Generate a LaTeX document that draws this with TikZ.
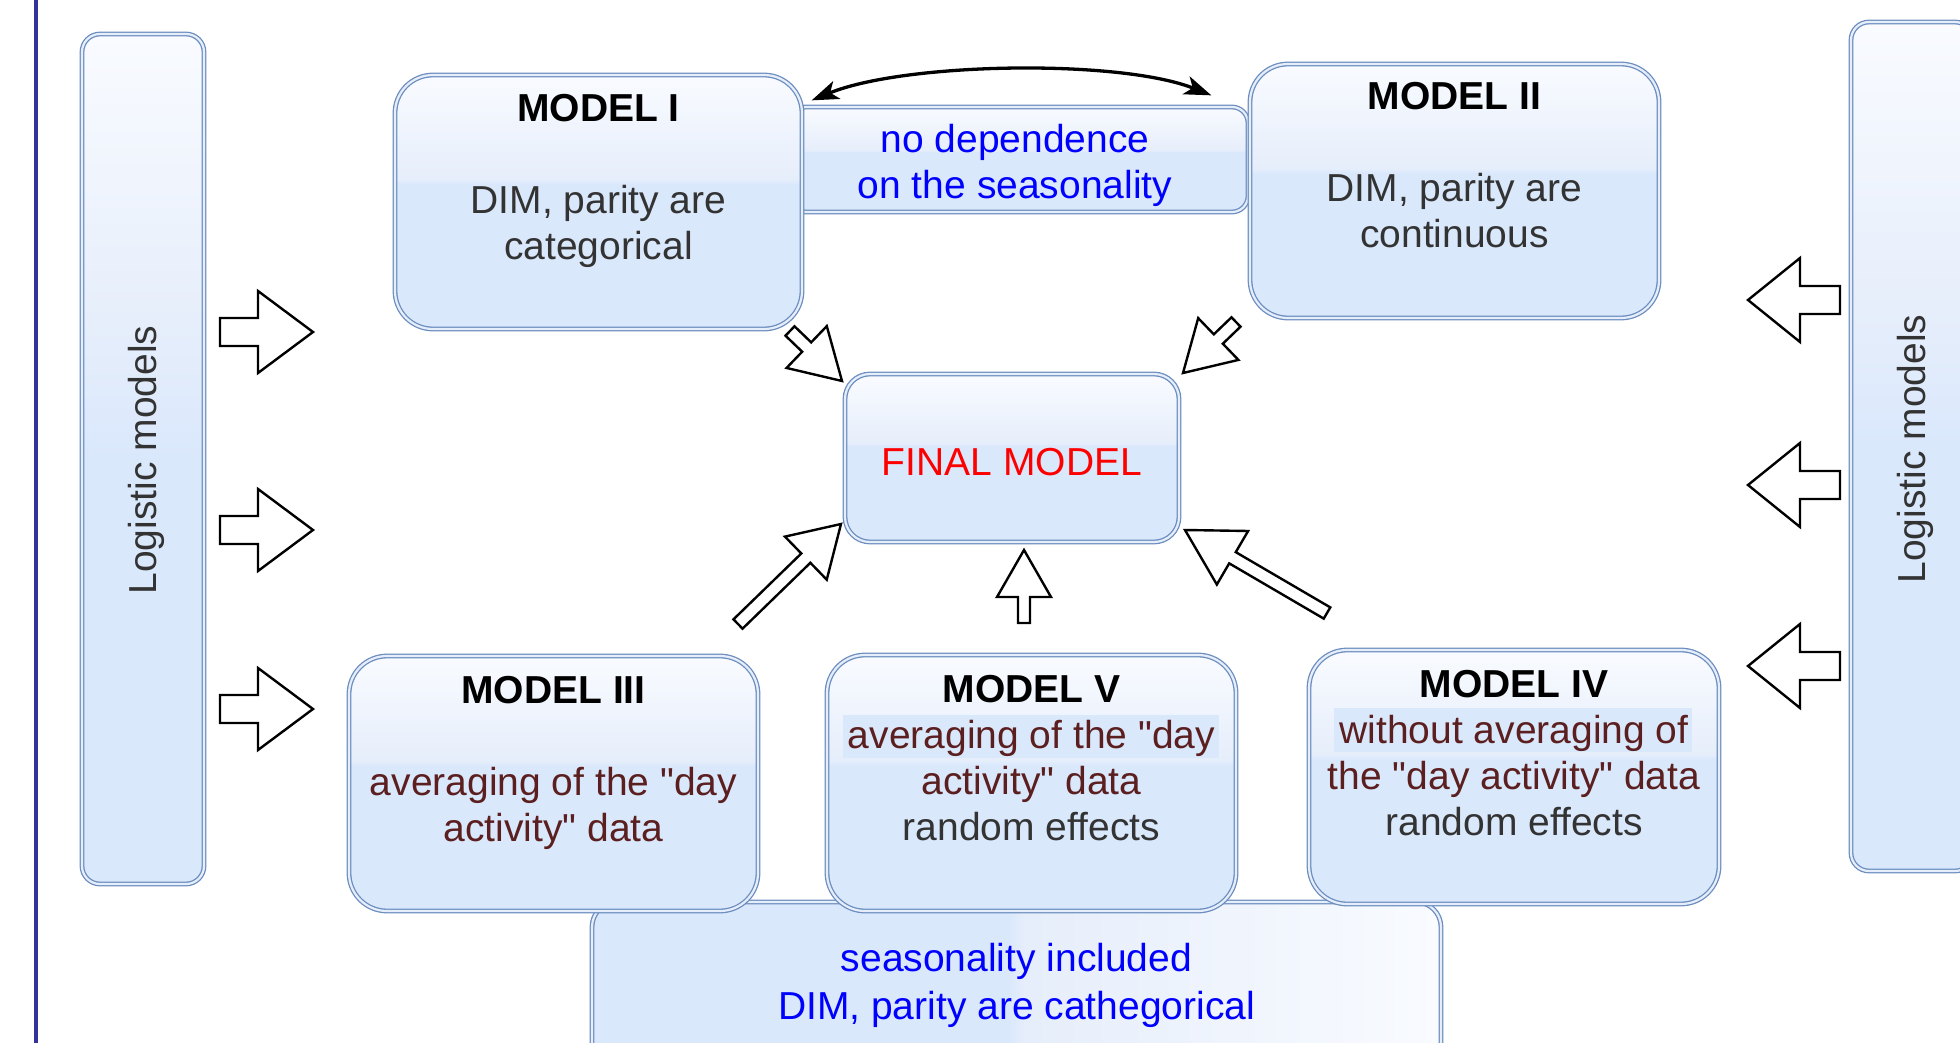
\documentclass[tikz,border=0pt]{standalone}
\usepackage{fontspec}
\setmainfont{Liberation Sans}[Ligatures=TeXOff]
\usetikzlibrary{calc,arrows.meta}

\definecolor{boxblue}{HTML}{DAE8FC}
\definecolor{glasslow}{HTML}{E6EEFB}
\definecolor{glasstop}{HTML}{F9FBFF}
\definecolor{boxline}{HTML}{6C8EBF}
\definecolor{frameblue}{HTML}{33339A}
\definecolor{bodygray}{HTML}{333333}
\definecolor{maroon}{HTML}{5C1F1F}
\definecolor{noteblue}{HTML}{0000FF}
\definecolor{finalred}{HTML}{FF0000}

% glossy fill: pale upper part, flat blue lower part
\pgfdeclareverticalshading{glassbox}{100bp}{color(0bp)=(boxblue); color(25bp)=(boxblue); color(53.5bp)=(boxblue); color(54.5bp)=(glasslow); color(75bp)=(glasstop); color(100bp)=(glasstop)}
\pgfdeclareverticalshading{glasssoft}{100bp}{color(0bp)=(boxblue); color(25bp)=(boxblue); color(50bp)=(boxblue); color(58bp)=(glasslow); color(75bp)=(glasstop); color(100bp)=(glasstop)}
\pgfdeclarehorizontalshading{glassside}{100bp}{color(0bp)=(boxblue); color(25bp)=(boxblue); color(49.5bp)=(boxblue); color(50.5bp)=(glasslow); color(75bp)=(glasstop); color(100bp)=(glasstop)}

\newcommand\topstrut{\rule{0pt}{30pt}}

% hollow block arrow: tail, tip, shaft half width, head half width, head length
\newcommand\blockarrow[5]{%
  \path ($(#2)!#5!(#1)$) coordinate (bahead);
  \draw[blockline] ($(#1)!#3!90:(#2)$) -- ($(bahead)!#3!90:(#2)$) -- ($(bahead)!#4!90:(#2)$) -- (#2)
    -- ($(bahead)!#4!-90:(#2)$) -- ($(bahead)!#3!-90:(#2)$) -- ($(#1)!#3!-90:(#2)$) -- cycle;}

\begin{document}
\begin{tikzpicture}[x=1pt,y=-1pt,
  gbox/.style={rectangle, rounded corners=#1, draw=boxline, line width=1.3pt,
    double=glasslow, double distance=2.2pt, shading=glassbox, inner sep=0pt},
  gbox/.default=38pt,
  txt/.style={align=center, inner sep=0pt, anchor=north, font=\fontsize{39}{46}\selectfont},
  sidetxt/.style={inner sep=0pt, rotate=90, font=\fontsize{39}{46}\selectfont, text=bodygray},
  blockline/.style={draw=black, fill=white, line width=2.4pt, line join=miter},
  frameline/.style={draw=frameblue, line width=4pt},
  swap/.style={draw=black, line width=3.3pt, {Stealth[length=27pt,width=19pt,inset=7pt]}-{Stealth[length=27pt,width=19pt,inset=7pt]}}
]
\useasboundingbox (0,0) rectangle (1960,1043);
\clip (0,0) rectangle (1960,1043);

% left frame rule
\draw[frameline] (36,-5) -- (36,1050);

% boxes
\node[gbox=25pt, shading=glassside, minimum width=849pt, minimum height=240pt] (bot) at (1016.5,1022) {};
\node[gbox=16pt, minimum width=458pt, minimum height=105pt] (conn) at (1019,159.5) {};
\node[gbox, minimum width=407pt, minimum height=254pt] (m1) at (598.5,202) {};
\node[gbox, minimum width=409pt, minimum height=254pt] (m2) at (1454.5,191) {};
\node[gbox=25pt, minimum width=334pt, minimum height=168pt] (final) at (1012,458) {};
\node[gbox, minimum width=409pt, minimum height=255pt] (m3) at (553.5,783.5) {};
\node[gbox, minimum width=409pt, minimum height=256pt] (m5) at (1031.5,783) {};
\node[gbox, minimum width=410pt, minimum height=254pt] (m4) at (1514,777) {};
\node[gbox=18pt, shading=glasssoft, minimum width=122pt, minimum height=850pt] (logL) at (143,459) {};
\node[gbox=18pt, shading=glasssoft, minimum width=122pt, minimum height=849pt] (logR) at (1912,446.5) {};

% highlighted text lines
\fill[boxblue] (843,715) rectangle (1219,758);
\fill[boxblue] (1334,708) rectangle (1692,752);

% texts
\node[sidetxt] (logLt) at (146,460) {Logistic models};
\node[sidetxt] (logRt) at (1915,449) {Logistic models};
\node[txt, text=bodygray] (m1t) at (598.5,91) {\topstrut\textcolor{black}{\textbf{MODEL I}}\\[46pt]DIM, parity are\\categorical};
\node[txt, text=bodygray] (m2t) at (1454.5,79) {\topstrut\textcolor{black}{\textbf{MODEL II}}\\[46pt]DIM, parity are\\continuous};
\node[txt, text=noteblue] (connt) at (1015,122) {\topstrut no dependence\\on the seasonality};
\node[txt, text=finalred] (finalt) at (1012,445) {\topstrut FINAL MODEL};
\node[txt, text=maroon] (m3t) at (553.5,673) {\topstrut\textcolor{black}{\textbf{MODEL III}}\\[46pt]averaging of the "day\\activity" data};
\node[txt, text=maroon] (m5t) at (1031.5,672) {\topstrut\textcolor{black}{\textbf{MODEL V}}\\averaging of the "day\\activity" data\\\textcolor{bodygray}{random effects}};
\node[txt, text=maroon] (m4t) at (1514,667) {\topstrut\textcolor{black}{\textbf{MODEL IV}}\\without averaging of\\the "day activity" data\\\textcolor{bodygray}{random effects}};
\node[txt, text=noteblue] (bott) at (1016.5,941) {\topstrut seasonality included\\[2pt]DIM, parity are cathegorical};

% end points of the arrows
\coordinate (swapA) at ($(m1.north east)+(9,26)$);
\coordinate (swapB) at ($(m2.north west)+(-38,32)$);
\coordinate (lt1) at (220,332); \coordinate (lp1) at (313,332);
\coordinate (lt2) at (220,530); \coordinate (lp2) at (313,530);
\coordinate (lt3) at (220,709); \coordinate (lp3) at (313,709);
\coordinate (rt1) at (1840,300); \coordinate (rp1) at (1748,300);
\coordinate (rt2) at (1840,485); \coordinate (rp2) at (1748,485);
\coordinate (rt3) at (1840,666); \coordinate (rp3) at (1748,666);
\coordinate (d1t) at (790,331);  \coordinate (d1p) at (842,381);
\coordinate (d2t) at (1236,322); \coordinate (d2p) at (1183,373);
\coordinate (d3t) at (738,624);  \coordinate (d3p) at (841,524);
\coordinate (d5t) at (1024,623); \coordinate (d5p) at (1024,550);
\coordinate (d4t) at (1327,613); \coordinate (d4p) at (1185,530);

% arrows
\draw[swap] (swapA) .. controls (905,62) and (1120,59) .. (swapB);
\blockarrow{lt1}{lp1}{14pt}{41pt}{55pt}
\blockarrow{lt2}{lp2}{14pt}{41pt}{55pt}
\blockarrow{lt3}{lp3}{14pt}{41pt}{55pt}
\blockarrow{rt1}{rp1}{14pt}{42pt}{52pt}
\blockarrow{rt2}{rp2}{14pt}{42pt}{52pt}
\blockarrow{rt3}{rp3}{14pt}{42pt}{52pt}
\blockarrow{d1t}{d1p}{6.5pt}{29pt}{49pt}
\blockarrow{d2t}{d2p}{6.5pt}{29pt}{49pt}
\blockarrow{d3t}{d3p}{6.5pt}{30pt}{49pt}
\blockarrow{d5t}{d5p}{6pt}{27pt}{47pt}
\blockarrow{d4t}{d4p}{6.5pt}{31pt}{55pt}
\end{tikzpicture}
\end{document}
